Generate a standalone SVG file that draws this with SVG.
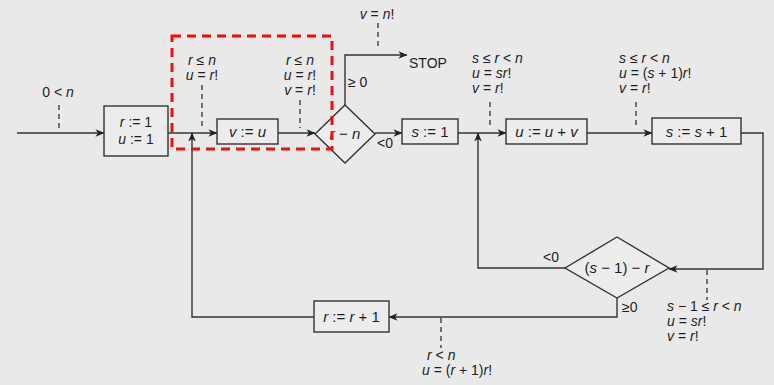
<svg xmlns="http://www.w3.org/2000/svg" width="774" height="385" viewBox="0 0 774 385">
<style>
text{font-family:"Liberation Sans",Arial,sans-serif;font-size:14px;fill:#1e1e1e}
.b{font-size:15px}
.c{text-anchor:middle}
.n{fill:none;stroke:#333;stroke-width:1.4}
.bx{fill:#ececec;stroke:#333;stroke-width:1.4}
.d{fill:none;stroke:#333;stroke-width:1.3;stroke-dasharray:5,4}
.arr{marker-end:url(#ah)}
</style>
<defs>
<marker id="ah" viewBox="0 0 10 10" refX="9.5" refY="5" markerWidth="9" markerHeight="9" markerUnits="userSpaceOnUse" orient="auto">
<path d="M0,0.8 L10,5 L0,9.2 L2.8,5 z" fill="#222"/>
</marker>
</defs>
<rect width="774" height="385" fill="#e9e9e9"/>
<g id="connectors">
<path class="n arr" d="M17,133 H104"/>
<path class="n arr" d="M168,133 H217"/>
<path class="n arr" d="M278,133 H315"/>
<path class="n arr" d="M345,105 V55 H407"/>
<path class="n arr" d="M375,133 H402"/>
<path class="n arr" d="M458,133 H506"/>
<path class="n arr" d="M587,133 H652"/>
<path class="n arr" d="M741,133 H763 V269 H669"/>
<path class="n arr" d="M565,268 H478 V133"/>
<path class="n arr" d="M617,298 V317 H389"/>
<path class="n arr" d="M314,317 H192 V133"/>
<path class="d" d="M59,105 V130"/>
<path class="d" d="M202,85 V130"/>
<path class="d" d="M300,100 V128"/>
<path class="d" d="M378,23 V50"/>
<path class="d" d="M490,102 V128"/>
<path class="d" d="M636,102 V128"/>
<path class="d" d="M707,270 V300"/>
<path class="d" d="M441,318 V348"/>
<text x="377" y="148">&lt;0</text>
<text x="348" y="87">≥ 0</text>
<text x="543" y="262">&lt;0</text>
<text x="622" y="312">≥0</text>
</g>
<g id="n_init">
<rect class="bx" x="104" y="106" width="64" height="50"/>
<text class="c" x="136" y="127"><tspan font-style="italic">r</tspan> := 1</text>
<text class="c" x="136" y="144"><tspan font-style="italic">u</tspan> := 1</text>
</g>
<g id="n_vu">
<rect class="bx" x="217" y="119" width="61" height="25"/>
<text class="b c" x="247.5" y="137"><tspan font-style="italic">v</tspan> := <tspan font-style="italic">u</tspan></text>
</g>
<g id="n_d1">
<path class="bx" d="M315,134 L345,105 L375,134 L345,163 Z"/>
<text class="b c" x="345" y="139"><tspan font-style="italic">r</tspan> − <tspan font-style="italic">n</tspan></text>
</g>
<g id="n_stop">
<text x="409" y="68">STOP</text>
</g>
<g id="n_s1">
<rect class="bx" x="402" y="119" width="56" height="25"/>
<text class="b c" x="430" y="137"><tspan font-style="italic">s</tspan> := 1</text>
</g>
<g id="n_uuv">
<rect class="bx" x="506" y="119" width="81" height="25"/>
<text class="b c" x="546.5" y="137"><tspan font-style="italic">u</tspan> := <tspan font-style="italic">u</tspan> + <tspan font-style="italic">v</tspan></text>
</g>
<g id="n_ss1">
<rect class="bx" x="652" y="118" width="89" height="26"/>
<text class="b c" x="696.5" y="137"><tspan font-style="italic">s</tspan> := <tspan font-style="italic">s</tspan> + 1</text>
</g>
<g id="n_d2">
<path class="bx" d="M565,268 L617,237 L669,268 L617,298 Z"/>
<text class="b c" x="617" y="273">(<tspan font-style="italic">s</tspan> − 1) − <tspan font-style="italic">r</tspan></text>
</g>
<g id="n_rr1">
<rect class="bx" x="314" y="301" width="75" height="31"/>
<text class="b c" x="351.5" y="322"><tspan font-style="italic">r</tspan> := <tspan font-style="italic">r</tspan> + 1</text>
</g>
<g id="annotations">
<text class="c" x="58" y="97">0 &lt; <tspan font-style="italic">n</tspan></text>
<text class="c" x="202" y="65"><tspan font-style="italic">r</tspan> ≤ <tspan font-style="italic">n</tspan></text>
<text class="c" x="202" y="80"><tspan font-style="italic">u</tspan> = <tspan font-style="italic">r</tspan>!</text>
<text class="c" x="300" y="65"><tspan font-style="italic">r</tspan> ≤ <tspan font-style="italic">n</tspan></text>
<text class="c" x="300" y="80"><tspan font-style="italic">u</tspan> = <tspan font-style="italic">r</tspan>!</text>
<text class="c" x="300" y="95"><tspan font-style="italic">v</tspan> = <tspan font-style="italic">r</tspan>!</text>
<text class="c" x="377" y="19"><tspan font-style="italic">v</tspan> = <tspan font-style="italic">n</tspan>!</text>
<text x="472" y="63"><tspan font-style="italic">s</tspan> ≤ <tspan font-style="italic">r</tspan> &lt; <tspan font-style="italic">n</tspan></text>
<text x="472" y="78"><tspan font-style="italic">u</tspan> = <tspan font-style="italic">sr</tspan>!</text>
<text x="472" y="93"><tspan font-style="italic">v</tspan> = <tspan font-style="italic">r</tspan>!</text>
<text x="619" y="63"><tspan font-style="italic">s</tspan> ≤ <tspan font-style="italic">r</tspan> &lt; <tspan font-style="italic">n</tspan></text>
<text x="619" y="78"><tspan font-style="italic">u</tspan> = (<tspan font-style="italic">s</tspan> + 1)<tspan font-style="italic">r</tspan>!</text>
<text x="619" y="93"><tspan font-style="italic">v</tspan> = <tspan font-style="italic">r</tspan>!</text>
<text x="667" y="311"><tspan font-style="italic">s</tspan> − 1 ≤ <tspan font-style="italic">r</tspan> &lt; <tspan font-style="italic">n</tspan></text>
<text x="667" y="326"><tspan font-style="italic">u</tspan> = <tspan font-style="italic">sr</tspan>!</text>
<text x="667" y="341"><tspan font-style="italic">v</tspan> = <tspan font-style="italic">r</tspan>!</text>
<text x="427" y="360"><tspan font-style="italic">r</tspan> &lt; <tspan font-style="italic">n</tspan></text>
<text x="422" y="375"><tspan font-style="italic">u</tspan> = (<tspan font-style="italic">r</tspan> + 1)<tspan font-style="italic">r</tspan>!</text>
</g>
<rect id="highlight" x="172" y="36" width="160" height="113" fill="none" stroke="#f01010" stroke-width="3" stroke-dasharray="9,6"/>
</svg>
